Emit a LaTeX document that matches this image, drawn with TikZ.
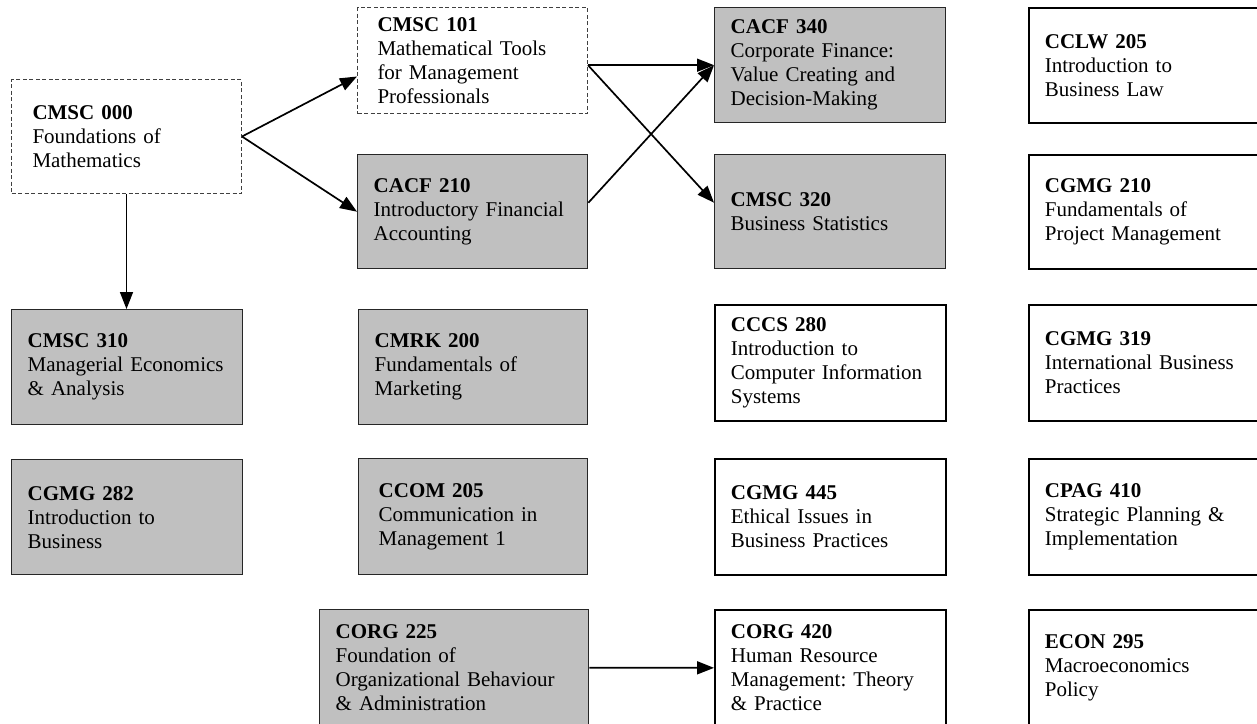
\documentclass[tikz,border=0pt]{standalone}
\usepackage{fontspec}
\setmainfont{Liberation Serif}
\usetikzlibrary{arrows.meta,calc}
\definecolor{boxgray}{HTML}{C0C0C0}
\frenchspacing
\begin{document}
\begin{tikzpicture}[x=1pt,y=-1pt,
  cbox/.style={rectangle, anchor=north west, align=left, inner ysep=0pt, font=\fontsize{21}{24}\selectfont},
  gbox/.style={cbox, draw=black!85, line width=1.4pt, fill=boxgray},
  wbox/.style={cbox, draw=black, line width=1.7pt, fill=white},
  dbox/.style={cbox, draw=black!75, line width=1pt, dash pattern=on 4pt off 2.5pt, fill=white},
  arr/.style={-{Triangle[length=17pt,width=13pt]}, line width=1.7pt, draw=black}]
\useasboundingbox (0,0) rectangle (1257,723);
\clip (0,0) rectangle (1257,723);
\fill[white] (0,0) rectangle (1257,723);

% column 1
\node[dbox, text width=188pt, inner xsep=21pt, minimum height=114pt] (c000) at (11,79) {\textbf{CMSC 000}\\Foundations of\\Mathematics};
\node[gbox, text width=199pt, inner xsep=16pt, minimum height=115pt] (c310) at (11,309) {\textbf{CMSC 310}\\Managerial Economics\\\& Analysis};
\node[gbox, text width=199pt, inner xsep=16pt, minimum height=115pt] (g282) at (11,459) {\textbf{CGMG 282}\\Introduction to\\Business};

% column 2
\node[dbox, text width=190pt, inner xsep=20pt, minimum height=106pt] (c101) at (357,7) {\textbf{CMSC 101}\\Mathematical Tools\\for Management\\Professionals};
\node[gbox, text width=198pt, inner xsep=16pt, minimum height=114pt] (a210) at (357,154) {\textbf{CACF 210}\\Introductory Financial\\Accounting};
\node[gbox, text width=197pt, inner xsep=16pt, minimum height=115pt] (m200) at (358,309) {\textbf{CMRK 200}\\Fundamentals of\\Marketing};
\node[gbox, text width=189pt, inner xsep=20pt, minimum height=116pt] (o205) at (358,458) {\textbf{CCOM 205}\\Communication in\\Management 1};
\node[gbox, text width=237pt, inner xsep=16pt, minimum height=116pt] (o225) at (319,609) {\textbf{CORG 225}\\Foundation of\\Organizational Behaviour\\\& Administration};

% column 3
\node[gbox, text width=199pt, inner xsep=16pt, minimum height=115pt] (a340) at (714,7) {\textbf{CACF 340}\\Corporate Finance:\\Value Creating and\\Decision-Making};
\node[gbox, text width=199pt, inner xsep=16pt, minimum height=114pt] (c320) at (714,154) {\textbf{CMSC 320}\\Business Statistics};
\node[wbox, text width=199pt, inner xsep=16pt, minimum height=116pt] (s280) at (714,304) {\textbf{CCCS 280}\\Introduction to\\Computer Information\\Systems};
\node[wbox, text width=199pt, inner xsep=16pt, minimum height=116pt] (g445) at (714,458) {\textbf{CGMG 445}\\Ethical Issues in\\Business Practices};
\node[wbox, text width=199pt, inner xsep=16pt, minimum height=116pt] (o420) at (714,609) {\textbf{CORG 420}\\Human Resource\\Management: Theory\\\& Practice};

% column 4
\node[wbox, text width=208pt, inner xsep=16pt, minimum height=115pt] (l205) at (1028,7) {\textbf{CCLW 205}\\Introduction to\\Business Law};
\node[wbox, text width=208pt, inner xsep=16pt, minimum height=114pt] (g210) at (1028,154) {\textbf{CGMG 210}\\Fundamentals of\\Project Management};
\node[wbox, text width=208pt, inner xsep=16pt, minimum height=116pt] (g319) at (1028,304) {\textbf{CGMG 319}\\International Business\\Practices};
\node[wbox, text width=208pt, inner xsep=16pt, minimum height=116pt] (p410) at (1028,458) {\textbf{CPAG 410}\\Strategic Planning \&\\Implementation};
\node[wbox, text width=208pt, inner xsep=16pt, minimum height=116pt] (e295) at (1028,609) {\textbf{ECON 295}\\Macroeconomics\\Policy};

% connectors
\draw[arr] (c000.east) -- ([yshift=-16pt]c101.west);
\draw[arr] (c000.east) -- (a210.west);
\draw[arr] (c000.south) -- (c000.south |- c310.north);
\draw[arr] (c101.east |- a340.west) -- (a340.west);
\draw[arr] (c101.east |- a340.west) -- ([yshift=9pt]c320.west);
\draw[arr] ([yshift=9pt]a210.east) -- (a340.west);
\draw[arr] (o225.east) -- (o420.west);
\end{tikzpicture}
\end{document}
